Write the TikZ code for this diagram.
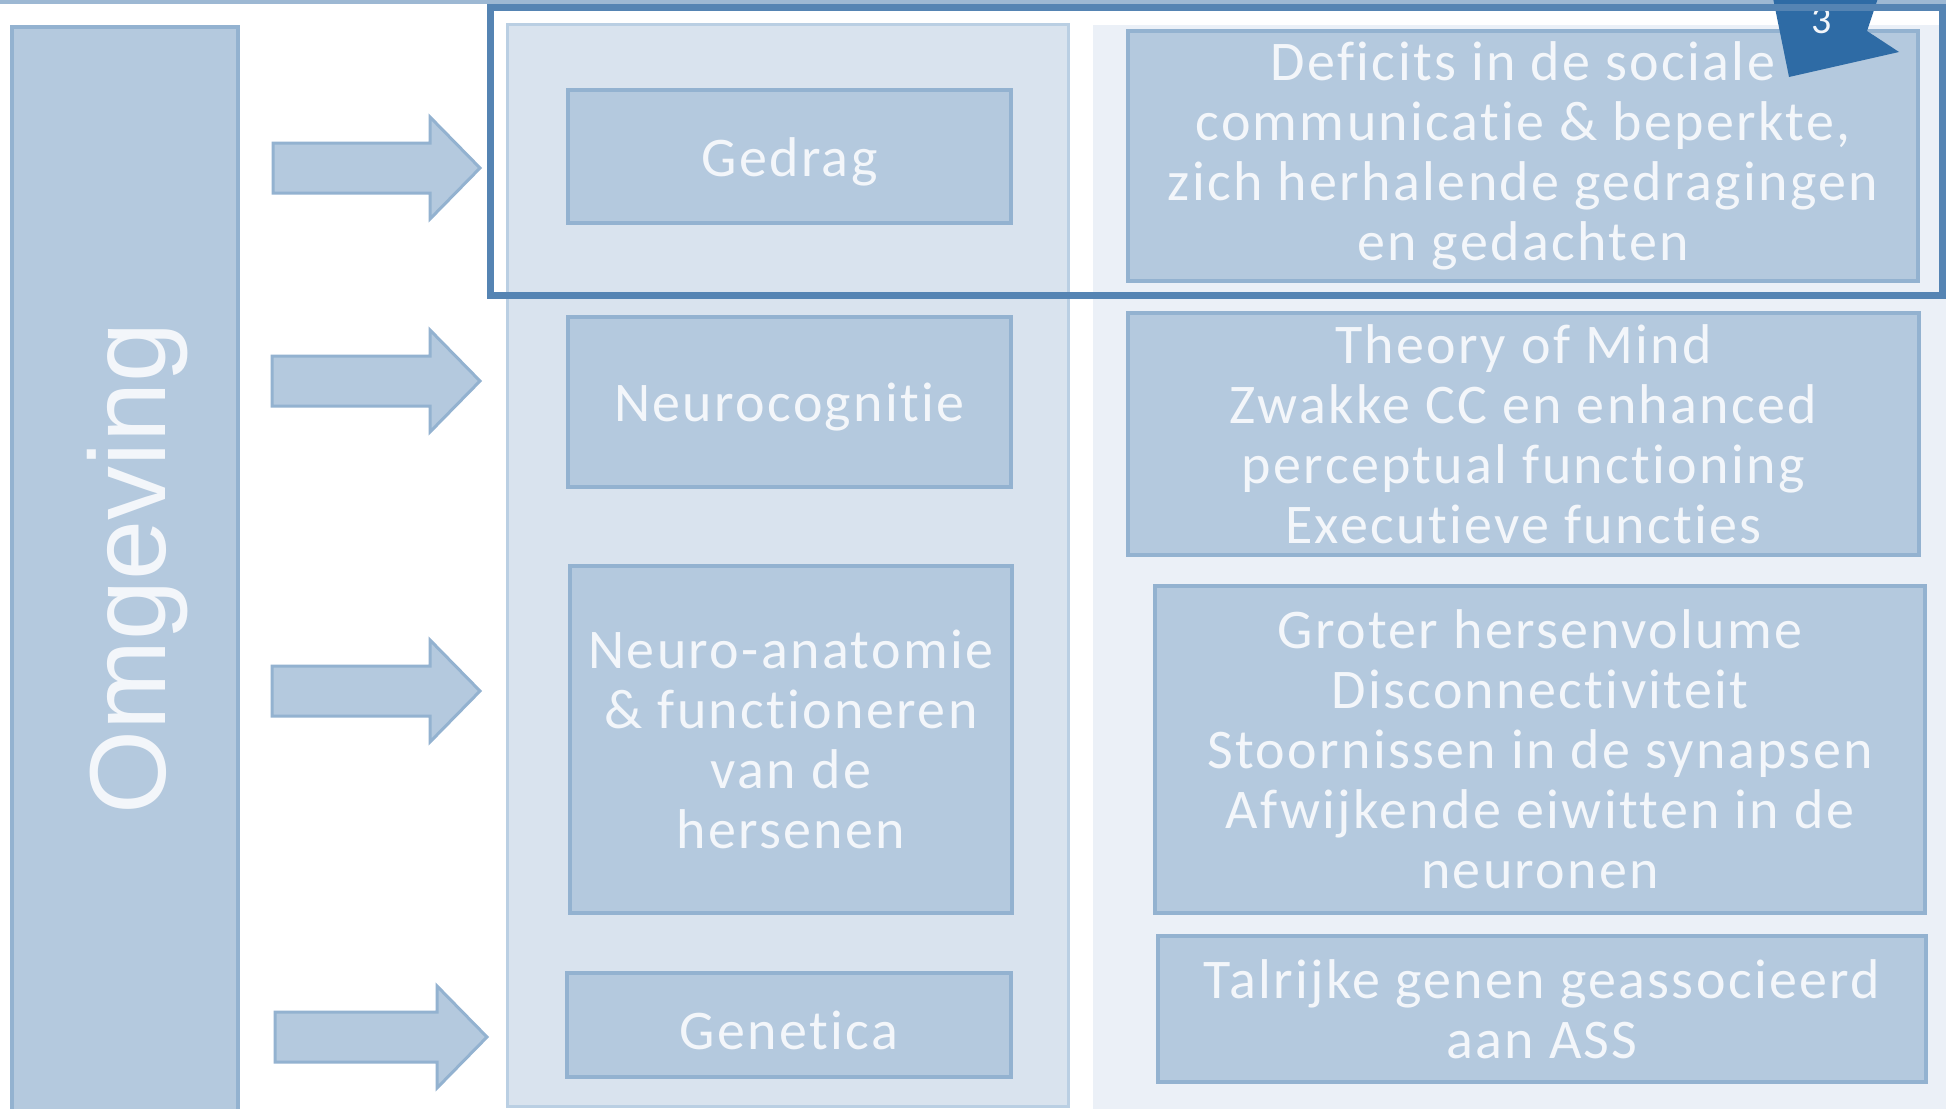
\documentclass[tikz,border=0pt]{standalone}
\usepackage{fontspec}
\setmainfont{Carlito}[LetterSpace=4.2, Ligatures=NoCommon]
\newfontfamily\omgfont{Liberation Sans}
\newfontfamily\numfont{Carlito}
\definecolor{boxfill}{HTML}{B4C9DE}
\definecolor{boxline}{HTML}{93B2D0}
\definecolor{panelfill}{HTML}{D9E3EE}
\definecolor{panelline}{HTML}{BACFE3}
\definecolor{sidefill}{HTML}{EBF0F7}
\definecolor{framecol}{HTML}{5584B3}
\definecolor{flagcol}{HTML}{2E6BA5}
\definecolor{topline}{HTML}{9DB8D3}
\definecolor{txt}{HTML}{F3F6FA}
\tikzset{
  cell/.style={draw=boxline, line width=2pt, fill=boxfill, text=txt,
    inner sep=0pt, align=center,
    execute at begin node={\rule{0pt}{24.5pt}},
    font=\fontsize{28}{30}\selectfont},
  panel/.style={draw=panelline, line width=1.5pt, fill=panelfill},
  blockarrow/.style={draw=boxline, line width=1.5pt, fill=boxfill, line join=miter},
}
\begin{document}
\begin{tikzpicture}[x=0.5pt, y=-0.5pt]
\useasboundingbox (0,0) rectangle (1946,1108);
\fill[white] (0,0) rectangle (1946,1108);
% thin rule along the top edge
\fill[topline] (0,0) rectangle (1946,4);

% left column: environment
\node[draw=boxline, line width=2pt, fill=boxfill, minimum width=113pt,
  minimum height=542pt, inner sep=0pt] (omg) at (125,569) {};
\node[rotate=90, anchor=base, text=txt, inner sep=0pt,
  font=\omgfont\fontsize{54}{60}\selectfont] (omglbl) at (165,568) {Omgeving};

% block arrows from the environment to the levels
\foreach \yc/\xa/\xb in {168/273/480, 381/272/480, 691/272/480, 1037/275/487}{
  \draw[blockarrow] (\xa,\yc-25) -- (\xb-50,\yc-25) -- (\xb-50,\yc-51)
    -- (\xb,\yc) -- (\xb-50,\yc+51) -- (\xb-50,\yc+25) -- (\xa,\yc+25) -- cycle;
}

% background panels
\node[panel, minimum width=280.5pt, minimum height=541pt, inner sep=0pt] (mid) at (787.5,565) {};
\fill[sidefill] (1093,25) rectangle (1950,1112);

% levels
\node[cell, minimum width=221.5pt, minimum height=66.5pt] (ged) at (789.5,156.5) {Gedrag};
\node[cell, minimum width=221.5pt, minimum height=85pt] (ncog) at (789.5,402) {Neurocognitie};
\node[cell, minimum width=221pt, minimum height=173.5pt] (nana) at (791,739.5)
  {Neuro-anatomie\\\& functioneren\\van de\\hersenen};
\node[cell, minimum width=222pt, minimum height=52pt] (gen) at (789,1025) {Genetica};

% findings per level
\node[cell, minimum width=395pt, minimum height=125pt] (def) at (1523,156)
  {Deficits in de sociale\\communicatie \& beperkte,\\zich herhalende gedragingen\\en gedachten};
\node[cell, minimum width=395.5pt, minimum height=121pt] (tom) at (1523.5,434)
  {Theory of Mind\\Zwakke CC en enhanced\\perceptual functioning\\Executieve functies};
\node[cell, minimum width=385pt, minimum height=163.5pt] (brain) at (1540,749.5)
  {Groter hersenvolume\\Disconnectiviteit\\Stoornissen in de synapsen\\Afwijkende eiwitten in de\\neuronen};
\node[cell, minimum width=384pt, minimum height=73pt] (genes) at (1542,1009)
  {Talrijke genen geassocieerd\\aan ASS};

% slide number tag
\fill[flagcol] (1773,-2) -- (1789,77) -- (1899,52) -- (1867,31) -- (1878,-2) -- cycle;
\node[text=txt, inner sep=0pt, anchor=base, font=\numfont\fontsize{20}{22}\selectfont] (num) at (1822,33) {3};

% highlight frame around the behaviour row
\draw[framecol, line width=3.5pt] (490,7) rectangle (1942,295);
\end{tikzpicture}
\end{document}
